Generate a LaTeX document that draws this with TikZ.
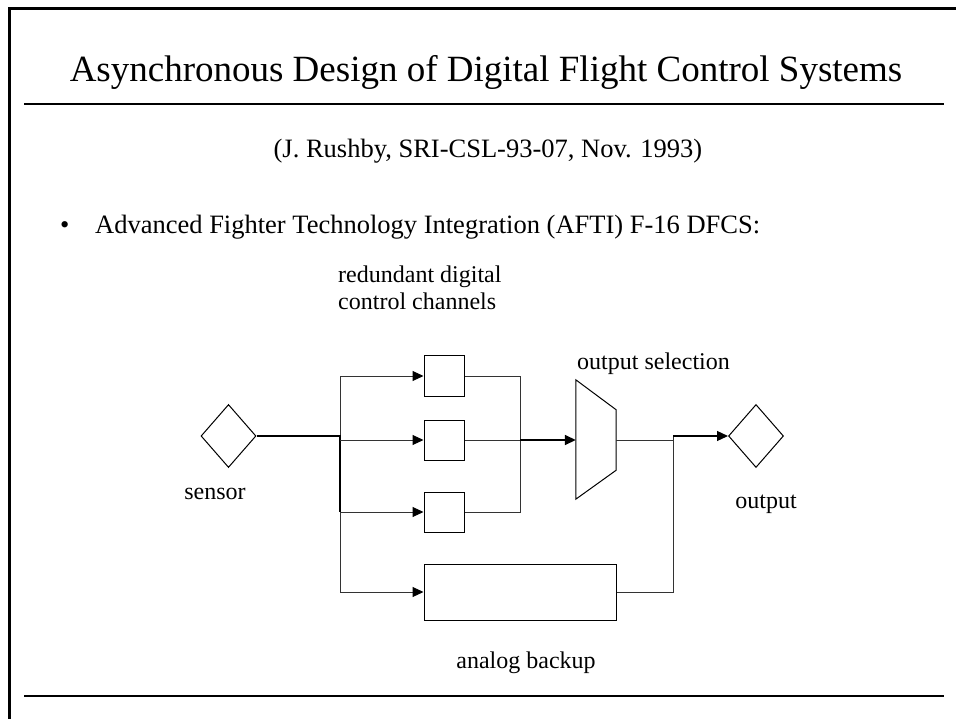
\documentclass[tikz,border=0pt]{standalone}
\usepackage{fontspec}
\setmainfont{Liberation Serif}
\usetikzlibrary{shapes.geometric,arrows.meta,calc}
\begin{document}
\begin{tikzpicture}[x=1pt,y=-1pt,
  wire/.style={line width=1pt, draw=black!80},
  bold/.style={line width=1.6pt, draw=black},
  tip/.style={-{Triangle[length=11pt,width=10pt,color=black]}},
  arr/.style={wire,tip},
  chbox/.style={draw, line width=1pt, minimum width=40pt, minimum height=40pt, inner sep=0pt},
  port/.style={diamond, draw, line width=1pt, minimum width=55pt, minimum height=63pt, inner sep=0pt},
  lbl/.style={font=\fontsize{24}{27}\selectfont, inner sep=0pt, anchor=base},
  body/.style={font=\fontsize{26.5}{30}\selectfont, inner sep=0pt, anchor=base},
  rule/.style={line width=2.5pt},
]
\useasboundingbox (0,0) rectangle (956,719);
\fill[white] (0,0) rectangle (956,719);
% frame
\draw[line width=3pt] (9,719) -- (9,9) -- (956,9);
\draw[rule] (24,104) -- (944,104);
\draw[rule] (24,696) -- (944,696);
% texts
\node[font=\fontsize{37}{42}\selectfont, inner sep=0pt, anchor=base] (title) at (486,82) {Asynchronous Design of Digital Flight Control Systems};
\node[body] (ref) at (488,158) {(J. Rushby, SRI-CSL-93-07, Nov. 1993)};
\node[body, anchor=base west] (bul) at (60,234) {\textbullet};
\node[body, anchor=base west] (item) at (95,234) {Advanced Fighter Technology Integration (AFTI) F-16 DFCS:};
\node[lbl, anchor=base west, align=left] (red) at (338,310) {redundant digital\\control channels};
\node[lbl, anchor=base west] (osel) at (577,370) {output selection};
\node[lbl] (senslbl) at (215,499) {sensor};
\node[lbl] (outlbl) at (766,508) {output};
\node[lbl] (anlbl) at (526,668) {analog backup};
% blocks
\node[port] (sensor) at (228.5,436) {};
\node[port] (out) at (756,436) {};
\node[chbox] (c1) at (444,376) {};
\node[chbox] (c2) at (444,440) {};
\node[chbox] (c3) at (444,512) {};
\node[chbox, minimum width=192pt, minimum height=56pt] (ab) at (520,592) {};
\node[inner sep=0pt, minimum width=40pt, minimum height=119pt] (mux) at (596,439.5) {};
\draw[line width=1pt] (mux.north west) -- ($(mux.north east)+(0,30)$) -- ($(mux.south east)+(0,-29)$) -- (mux.south west) -- cycle;
% junctions
\coordinate (j) at (340,436);
\coordinate (m) at (520,440);
\coordinate (k) at (673,436);
% connectors
\draw[wire] (340,376) -- (340,592);
\draw[bold] (sensor.east) -- (j) -- (340,512);
\draw[arr] (340,376) -- (c1.west);
\draw[arr] (340,440) -- (c2.west);
\draw[arr] (340,512) -- (c3.west);
\draw[arr] (340,592) -- (ab.west);
\draw[wire] (c1.east) -| (m);
\draw[wire] (c3.east) -| (m);
\draw[wire] (c2.east) -- (m);
\draw[bold,tip] (m) -- (mux.west |- m);
\draw[wire] (mux.east |- m) -- (k |- m);
\draw[wire] (ab.east) -| (k);
\draw[bold,line width=1.2pt,tip] (k) -- (out.west);
\end{tikzpicture}
\end{document}
